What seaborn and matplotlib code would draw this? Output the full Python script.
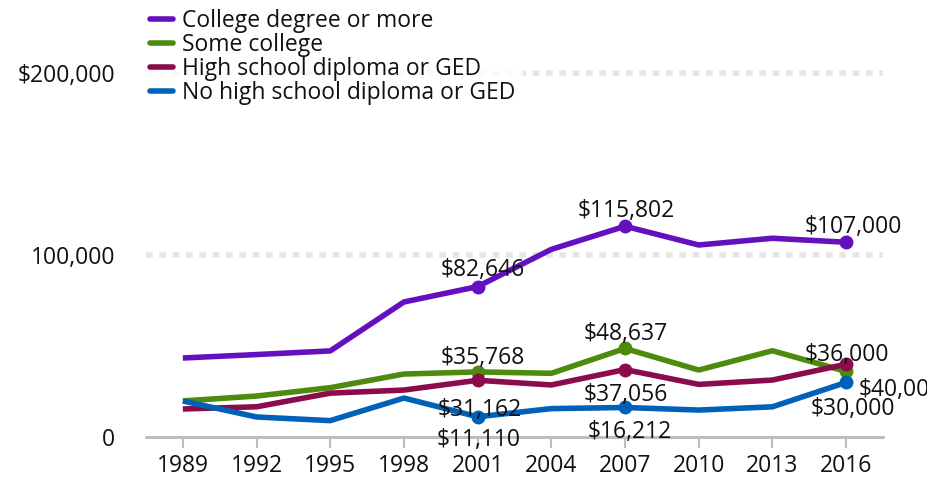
import matplotlib
matplotlib.use("Agg")
import matplotlib.pyplot as plt
import seaborn as sns
import pandas as pd

# Median family wealth by education of head of household
years = [1989, 1992, 1995, 1998, 2001, 2004, 2007, 2010, 2013, 2016]
series_names = [
    "College degree or more",
    "Some college",
    "High school diploma or GED",
    "No high school diploma or GED",
]
college = [43400, 45300, 47300, 74200, 82646, 103100, 115802, 105500, 109200, 107000]
some_college = [19800, 22500, 27100, 34600, 35768, 35000, 48637, 36800, 47400, 36000]
high_school = [15400, 16600, 24100, 25800, 31162, 28600, 37056, 28900, 31300, 40000]
no_high_school = [19800, 11000, 9000, 21400, 11110, 15600, 16212, 14800, 16600, 30000]

colors = ["#6510BF", "#4E8A0E", "#8C0B4C", "#0061B8"]
y_ticks = [0, 100000, 200000]
y_tick_labels = ["0", "100,000", "$200,000"]

# Labelled points: (series index, year, text, x offset px, y offset px, ha)
labels = [
    (0, 2001, "$82,646", 5, 17, "center"),
    (1, 2001, "$35,768", 5, 14, "center"),
    (2, 2001, "$31,162", 2, -30, "center"),
    (3, 2001, "$11,110", 1, -23, "center"),
    (0, 2007, "$115,802", 1, 15, "center"),
    (1, 2007, "$48,637", 1, 14, "center"),
    (2, 2007, "$37,056", 1, -25, "center"),
    (3, 2007, "$16,212", 5, -25, "center"),
    (0, 2016, "$107,000", 7, 15, "center"),
    (1, 2016, "$36,000", 1, 16, "center"),
    (2, 2016, "$40,000", 12, -26, "left"),
    (3, 2016, "$30,000", 7, -27, "center"),
]

values = [college, some_college, high_school, no_high_school]
df = pd.DataFrame({
    "year": years * len(series_names),
    "wealth": [v for s in values for v in s],
    "group": [n for n in series_names for _ in years],
})

sns.set_style("white")
plt.rcParams["font.family"] = ["Open Sans", "DejaVu Sans"]
FS = 16.5

fig = plt.figure(figsize=(9.27, 4.79), dpi=100)
W, H = 927, 479
ax = fig.add_axes([146 / W, 1 - 437 / H, (883 - 146) / W, (437 - 73) / H])
ax.set_xlim(1987.5, 2017.5)
ax.set_ylim(0, 200000)

# dotted gridlines
for yv in y_ticks[1:]:
    ax.axhline(yv, color="#e6e6e6", lw=4, linestyle=(0, (1.2, 1.2)), zorder=0,
               clip_on=False)
ax.axhline(0, color="#bdbdbd", lw=2.2, zorder=1, clip_on=False)

sns.lineplot(data=df, x="year", y="wealth", hue="group", palette=colors,
             hue_order=series_names, lw=4, ax=ax, legend=False, zorder=3,
             solid_capstyle="butt")

for si, yr, txt, dx, dy, ha in labels:
    yv = values[si][years.index(yr)]
    ax.plot([yr], [yv], "o", color=colors[si], ms=9, zorder=4)
    ax.annotate(txt, (yr, yv), xytext=(dx, dy), textcoords="offset pixels",
                ha=ha, va="center", fontsize=FS, color="#111111",
                annotation_clip=False, zorder=5)

for s in ax.spines.values():
    s.set_visible(False)
ax.set_xticks(years)
ax.set_xticklabels([str(y) for y in years], fontsize=FS, color="#111111")
ax.set_yticks(y_ticks)
ax.set_yticklabels(y_tick_labels, fontsize=FS, color="#111111")
ax.tick_params(axis="x", length=8, width=1.5, color="#bdbdbd", pad=4,
               bottom=True, direction="out")
ax.tick_params(axis="y", length=0, pad=22)
ax.set_xlabel("")
ax.set_ylabel("")

handles = [plt.Line2D([], [], color=c, lw=4) for c in colors]
leg = fig.legend(handles, series_names, loc="upper left",
                 bbox_to_anchor=(143 / W, 1 - 2 / H), frameon=True,
                 fontsize=FS, handlelength=1.0, handletextpad=0.4,
                 labelspacing=0.0, borderpad=0.3, borderaxespad=0)
leg.get_frame().set_facecolor("white")
leg.get_frame().set_edgecolor("white")
for t in leg.get_texts():
    t.set_color("#111111")

fig.savefig("out.png", dpi=100)
